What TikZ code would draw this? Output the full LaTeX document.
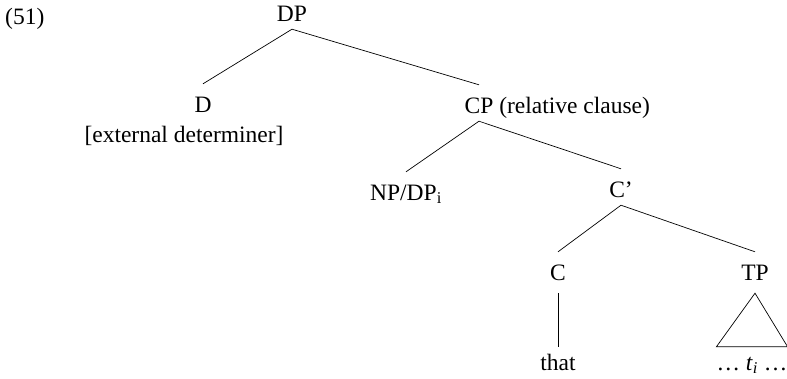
\documentclass[tikz,border=0pt]{standalone}
\usepackage{fontspec}
\setmainfont{Liberation Serif}
\usetikzlibrary{positioning}

\begin{document}
\begin{tikzpicture}[x=1pt,y=-1pt,
	every node/.style={font=\fontsize{23.5}{28}\selectfont},
	cat/.style={anchor=base,inner sep=0pt,text height=28pt,text depth=8pt},
	leaf/.style={cat,text height=23pt},
	branch/.style={line width=0.7pt}]
	\useasboundingbox (0,0) rectangle (787,378);
	\node[anchor=base west,inner sep=0pt] (num) at (5,24) {(51)};
	\node[cat] (DP) at (292,21) {DP};
	\node[cat] (D) at (203,112) {D};
	\node[anchor=base,inner sep=0pt] (ext) at (184,142) {[external determiner]};
	\node[cat] (CP) at (479,113) {CP};
	\node[base right=5.5pt of CP,inner sep=0pt] (rel) {(relative clause)};
	\node[cat] (NP) at (406,200) {NP/DP\textsubscript{i}};
	\node[cat] (Cbar) at (621,197) {C’};
	\node[cat] (C) at (558,280) {C};
	\node[cat] (TP) at (755,280) {TP};
	\node[leaf] (that) at (558,370) {that};
	\node[leaf] (ti) at (752,370) {\ldots\ \textit{t}\textsubscript{\textit{i}} \ldots};
	\draw[branch]
	(DP.south) -- (D.north)
	(DP.south) -- (CP.north)
	(CP.south) -- (NP.north)
	(CP.south) -- (Cbar.north)
	(Cbar.south) -- (C.north)
	(Cbar.south) -- (TP.north);
	\draw[branch,shorten <=5pt] (C.south) -- (that.north);
	\draw[branch] ([yshift=-5pt]TP.south) -- (ti.north east) -- (ti.north west) -- cycle;
\end{tikzpicture}
\end{document}
